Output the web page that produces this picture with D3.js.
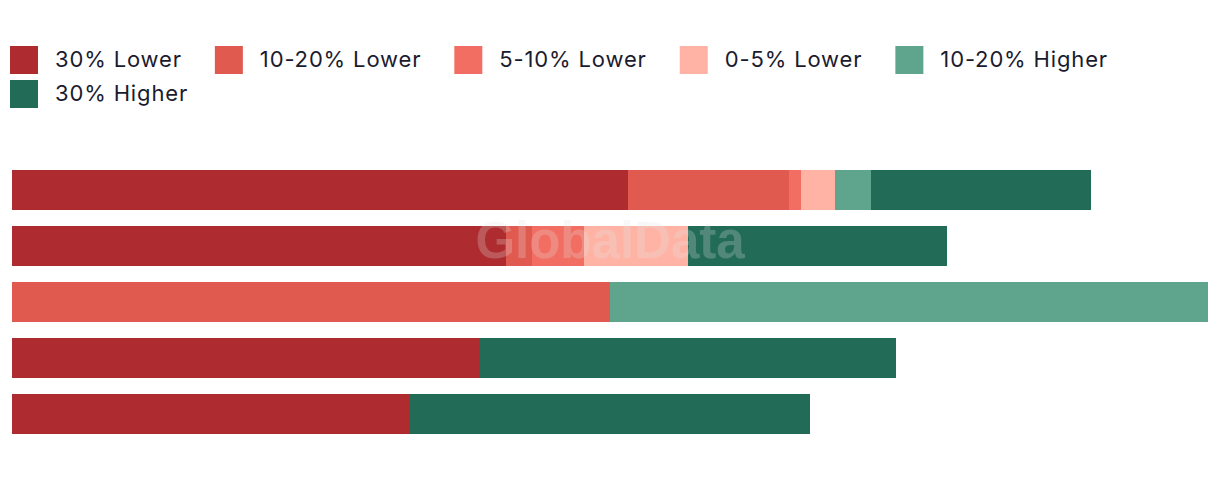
<!DOCTYPE html>
<html lang="en">
<head>
    <meta charset="UTF-8">
    <title>Stacked bars</title>
    <script src="https://d3js.org/d3.v7.min.js"></script>
    <style>
        body { margin: 0; background: #fff; }
        .legend text { font-family: Inter, "DejaVu Sans", sans-serif; font-size: 22px; letter-spacing: 0.85px; fill: #1b1b2e; }
    </style>
</head>
<body>
<div id="chart"></div>
<script>
    // categories (one per bar, top to bottom) - no labels shown in the chart
    const categories = ["A", "B", "C", "D", "E"];
    const keys = ["30% Lower", "10-20% Lower", "5-10% Lower", "0-5% Lower", "10-20% Higher", "30% Higher"];
    const colors = ["#ae2c2f", "#e05a4f", "#f26d62", "#feb3a5", "#5fa58e", "#226b57"];

    // share of each band
    const lower30   = [51.5, 41.3, 0,  39.1, 33.3];
    const lower1020 = [13.5, 2.2,  50, 0,    0];
    const lower510  = [1.0,  4.3,  0,  0,    0];
    const lower05   = [2.8,  8.7,  0,  0,    0];
    const higher1020 = [3.0, 0,    50, 0,    0];
    const higher30  = [18.4, 21.7, 0,  34.8, 33.4];

    const series = [lower30, lower1020, lower510, lower05, higher1020, higher30];
    const data = categories.map((c, i) => {
        const row = { cat: c };
        keys.forEach((k, j) => row[k] = series[j][i]);
        return row;
    });

    const width = 1220, height = 478;
    const svg = d3.select("#chart").append("svg")
        .attr("width", width)
        .attr("height", height);

    const x = d3.scaleLinear().domain([0, 100]).range([12, 1208]);
    const y = d3.scaleBand().domain(categories).range([170, 434])
        .paddingInner(16 / 56).paddingOuter(0);
    const color = d3.scaleOrdinal().domain(keys).range(colors);

    const stacked = d3.stack().keys(keys)(data);

    svg.append("g")
        .selectAll("g")
        .data(stacked)
        .join("g")
        .attr("fill", d => color(d.key))
        .selectAll("rect")
        .data(d => d)
        .join("rect")
        .attr("x", d => x(d[0]))
        .attr("y", d => y(d.data.cat))
        .attr("width", d => x(d[1]) - x(d[0]))
        .attr("height", y.bandwidth())
        .attr("shape-rendering", "crispEdges");

    // watermark
    svg.append("text")
        .attr("x", 610)
        .attr("y", 258)
        .attr("text-anchor", "middle")
        .style("font-family", "'Liberation Sans', Arial, sans-serif")
        .style("font-weight", "bold")
        .style("font-size", "51px")
        .style("fill", "#e6e6e6")
        .style("opacity", 0.24)
        .text("GlobalData");

    // legend, flowing left to right and wrapping
    const legend = svg.append("g").attr("class", "legend");
    let lx = 10, ly = 46;
    keys.forEach((k) => {
        const item = legend.append("g");
        item.append("rect").attr("width", 28).attr("height", 28).attr("fill", color(k));
        const t = item.append("text").attr("x", 45).attr("y", 20.5).text(k);
        const w = 45 + t.node().getComputedTextLength();
        if (lx + w > width - 10) { lx = 10; ly += 34; }
        item.attr("transform", `translate(${lx}, ${ly})`);
        lx += w + 33;
    });
</script>
</body>
</html>
